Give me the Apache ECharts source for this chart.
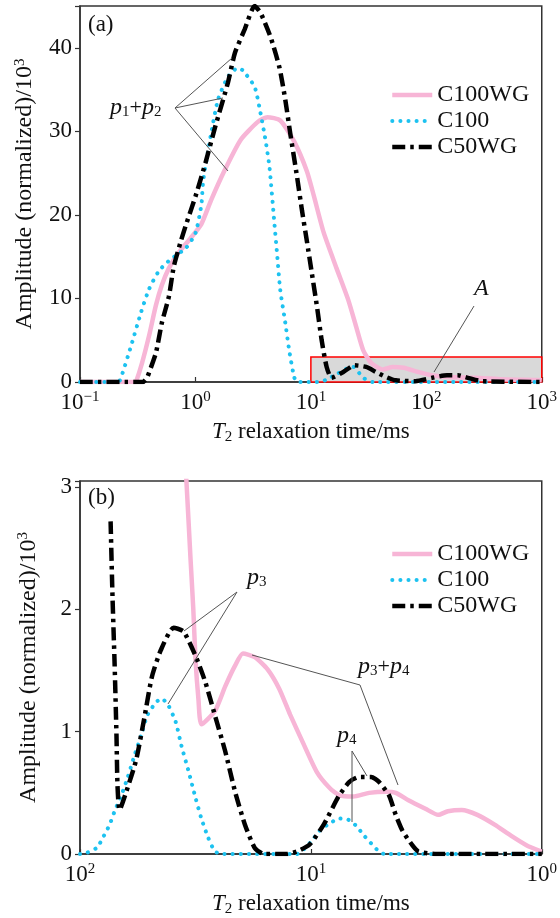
<!DOCTYPE html>
<html>
<head>
<meta charset="utf-8">
<script src="https://cdn.jsdelivr.net/npm/echarts@6/dist/echarts.min.js"></script>
<style>
html, body { margin: 0; padding: 0; background: #fff; }
#chart { width: 560px; height: 918px; }
</style>
</head>
<body>
<div id="chart"></div>
<script>
var seriesNames = ['C100WG', 'C100', 'C50WG'];

// panel (a): T2 in ms, amplitude /10^3
var xTickValuesA = [0.1, 1, 10, 100, 1000];
var xTickExpA = ['\u22121', '0', '1', '2', '3'];
var yTicksA = [0, 10, 20, 30, 40];

var c100wgA = [[0.1,0],[0.3,0],[0.307,0.1],[0.345,2.3],[0.396,5.5],[0.455,9.2],[0.512,11.6],[0.588,13.6],
  [0.716,15.5],[0.906,17.2],[1.125,18.9],[1.37,21.8],[1.8,25.4],[2.47,29],[3.45,31.1],[4.21,31.7],
  [5.43,31.3],[7.16,28.8],[9.25,25.2],[10.6,22.3],[12.9,17.9],[16.7,13.6],[21.1,9.8],[24.7,6.6],
  [28.4,3.8],[33.2,2.3],[42.1,1.5],[51.2,1.8],[63.6,1.7],[85.5,1.2],[112,0.8],[154,0.6],[262,0.5],
  [502,0.3],[906,0.25],[1000,0.2]];
var c100A = [[0.1,0],[0.2,0],[0.22,0.1],[0.278,4.4],[0.339,8.4],[0.396,11.1],[0.483,13.3],[0.611,14.7],
  [0.822,16.0],[1.0,17.8],[1.125,21.2],[1.17,24.2],[1.37,29.8],[1.57,33.8],[1.91,36.5],[2.33,37.6],
  [2.57,37.3],[3.26,35.3],[3.66,32.2],[4.04,29],[4.38,25.7],[4.83,19],[5.12,15],[5.43,11],[6.0,7.1],
  [6.49,3.8],[7.16,0.6],[7.6,0],[12,0],[13.7,0.3],[17,1.0],[21.1,1.7],[23.3,1.8],[28.4,0.5],[34.5,0],
  [100,0],[1000,0]];
var c50wgA = [[0.1,0],[0.35,0],[0.38,0.5],[0.396,1.1],[0.455,3.5],[0.512,7.1],[0.588,10.2],[0.649,13.8],
  [0.745,16.8],[0.837,19],[1.0,22.2],[1.22,26.2],[1.48,30.5],[1.91,35.8],[2.2,39.4],[2.67,42.2],
  [3.26,45],[3.66,44.2],[4.47,41.3],[5.33,37.7],[6.0,33.8],[6.62,29.8],[7.6,24.5],[8.38,20.5],
  [9.25,16.8],[10.2,13],[11.3,9.0],[12.4,5],[13.7,1.8],[15.1,0.5],[19.1,1.2],[23.8,2],[30.1,1.8],
  [36.6,1.2],[44.7,0.6],[54.3,0.2],[80.5,0.1],[112,0.5],[151,0.8],[188,0.8],[229,0.5],[301,0.1],[1000,0]];
var regionA = [[10, 0], [1000, 3]];

// panel (b): enlarged region A
var xTickValuesB = [100, 10, 1];
var xTickExpB = ['2', '1', '0'];
var yTicksB = [0, 1, 2, 3];

var c100wgB = [[36.5,3.8],[34.6,3.05],[33.2,2.41],[32.3,2.0],[31.6,1.59],[30.7,1.27],[29.8,1.06],[26.0,1.17],
  [23.5,1.37],[21.3,1.54],[19.7,1.64],[17.5,1.61],[15.4,1.51],[13.7,1.35],[12.3,1.14],[10.7,0.89],
  [9.42,0.67],[8.29,0.54],[7.52,0.48],[6.55,0.47],[5.6,0.50],[4.73,0.51],[4.29,0.50],[3.78,0.44],
  [3.19,0.37],[2.81,0.32],[2.55,0.35],[2.22,0.36],[1.9,0.32],[1.6,0.24],[1.36,0.15],[1.16,0.07],[1.0,0.02]];
var c100B = [[100,0],[98.1,0],[84.6,0.05],[79.8,0.13],[74.4,0.24],[70.8,0.35],[66.2,0.48],[62.3,0.62],
  [58.2,0.8],[54.3,0.97],[51.2,1.13],[46.9,1.24],[44.2,1.27],[41.3,1.21],[38.5,1.08],[36.3,0.88],
  [33.9,0.68],[31.6,0.46],[29.8,0.29],[27.8,0.13],[26.0,0.02],[24,0],[11.5,0],[10.1,0.09],[9.16,0.19],
  [8.29,0.25],[7.52,0.29],[6.88,0.28],[6.36,0.23],[5.88,0.15],[5.38,0.07],[5.07,0.02],[4.8,0],[1,0]];
var c50wgB = [[73.7,2.72],[72.3,2.1],[70.8,1.55],[69.5,0.97],[68.8,0.56],[67.4,0.36],[63.0,0.51],[57.1,0.77],
  [52.8,1.1],[48.8,1.45],[44.6,1.67],[39.3,1.85],[35.6,1.82],[31.6,1.62],[28.7,1.41],[26.0,1.13],
  [23.5,0.84],[21.3,0.51],[19.3,0.24],[17.5,0.05],[15.9,0],[12.7,0],[11.5,0.02],[10.1,0.08],[8.8,0.24],
  [7.59,0.47],[6.81,0.59],[6.18,0.63],[5.48,0.63],[5.07,0.59],[4.59,0.48],[4.29,0.32],[4.01,0.19],
  [3.63,0.07],[3.42,0.02],[2.9,0],[1,0]];

var FONT = "'Liberation Serif', 'Times New Roman', serif";
var AXIS = '#333';
var TXT = '#111';

var lineStyles = {
  'C100WG': {color: '#f7b5d6', width: 4.5, type: 'solid'},
  'C100': {color: '#1dc2f0', width: 4, type: [0.1, 8], cap: 'round'},
  'C50WG': {color: '#000', width: 4.5, type: [13, 5, 3.5, 5]}
};

function logLabel(values, exps) {
  return function (v) {
    for (var i = 0; i < values.length; i++) {
      if (Math.abs(Math.log10(v) - Math.log10(values[i])) < 1e-6) return '10{sup|' + exps[i] + '}';
    }
    return '';
  };
}
function valLabel(ticks) {
  return function (v) { return ticks.indexOf(v) >= 0 ? String(v) : ''; };
}

var supRich = {sup: {fontFamily: FONT, fontSize: 15, lineHeight: 14, verticalAlign: 'top', color: TXT}};
var nameRich = {
  it: {fontFamily: FONT, fontSize: 23, fontStyle: 'italic', color: TXT},
  sub: {fontFamily: FONT, fontSize: 15, lineHeight: 14, verticalAlign: 'bottom', color: TXT}
};

function xAxis(idx, ticks, exps, min, max, inverse) {
  return {
    type: 'log', logBase: 10, gridIndex: idx, min: min, max: max, inverse: inverse,
    axisLine: {show: true, lineStyle: {color: AXIS, width: 1.5}},
    axisTick: {show: true, inside: true, length: 5, lineStyle: {color: AXIS, width: 1.2}},
    minorTick: {show: false}, splitLine: {show: false},
    axisLabel: {formatter: logLabel(ticks, exps), fontFamily: FONT, fontSize: 23, color: TXT,
      margin: 8, lineHeight: 26, rich: supRich},
    name: '{it|T}{sub|2} relaxation time/ms', nameLocation: 'middle', nameGap: 37,
    nameTextStyle: {fontFamily: FONT, fontSize: 23, color: TXT, lineHeight: 26, rich: nameRich}
  };
}
function yAxis(idx, ticks, max, interval) {
  return {
    type: 'value', gridIndex: idx, min: 0, max: max, interval: interval,
    axisLine: {show: true, lineStyle: {color: AXIS, width: 1.5}},
    axisTick: {show: true, inside: false, length: 5, lineStyle: {color: AXIS, width: 1.2}},
    splitLine: {show: false},
    axisLabel: {formatter: valLabel(ticks), fontFamily: FONT, fontSize: 23, color: TXT, margin: 8},
    name: 'Amplitude (normalized)/10{sup|3}', nameLocation: 'middle', nameGap: 38, nameRotate: 90,
    nameTextStyle: {fontFamily: FONT, fontSize: 24, color: TXT, lineHeight: 26, rich: {
      sup: {fontFamily: FONT, fontSize: 15, lineHeight: 14, verticalAlign: 'top', color: TXT}}}
  };
}

function line(name, data, idx) {
  return {
    name: name, type: 'line', xAxisIndex: idx, yAxisIndex: idx, data: data,
    symbol: 'none', smooth: 0.2, lineStyle: lineStyles[name], itemStyle: {color: lineStyles[name].color},
    z: 3, clip: true
  };
}

function legend(top) {
  return {
    data: seriesNames, orient: 'vertical', left: 385, top: top,
    itemWidth: 40, itemHeight: 10, itemGap: 2,
    itemStyle: {opacity: 0},
    lineStyle: {width: 'inherit'},
    textStyle: {fontFamily: FONT, fontSize: 24, color: TXT, lineHeight: 22}
  };
}

function label(x, y, text, rich) {
  return {type: 'text', z: 10, style: {x: x, y: y, text: text, fontFamily: FONT, fontSize: 23,
    fill: TXT, verticalAlign: 'middle', align: 'left', rich: rich || {}}};
}
function leader(points) {
  return {type: 'polyline', z: 10, shape: {points: points}, style: {stroke: '#555', lineWidth: 1, fill: null}};
}
var pRich = {
  i: {fontFamily: FONT, fontSize: 24, fontStyle: 'italic', color: TXT},
  s: {fontFamily: FONT, fontSize: 15, lineHeight: 14, verticalAlign: 'bottom', color: TXT},
  t: {fontFamily: FONT, fontSize: 22, color: TXT}
};

var option = {
  backgroundColor: '#fff',
  animation: false,
  grid: [
    {left: 80, right: 12, top: 6, height: 376, show: true, borderColor: AXIS, borderWidth: 1.5},
    {left: 80, right: 12, top: 481, height: 375, show: true, borderColor: AXIS, borderWidth: 1.5}
  ],
  xAxis: [xAxis(0, xTickValuesA, xTickExpA, 0.1, 1000, false), xAxis(1, xTickValuesB, xTickExpB, 1, 100, true)],
  yAxis: [yAxis(0, yTicksA, 45, 10), yAxis(1, yTicksB, 3.05, 1)],
  legend: [legend(78), legend(537)],
  series: [
    {name: 'regionA', type: 'line', xAxisIndex: 0, yAxisIndex: 0, data: [], z: 1, silent: true,
      markArea: {silent: true, itemStyle: {color: '#d9d9d9', borderColor: '#ff0000', borderWidth: 1.5},
        data: [[{coord: regionA[0]}, {coord: regionA[1]}]]}},
    line('C100WG', c100wgA, 0), line('C100', c100A, 0), line('C50WG', c50wgA, 0),
    line('C100WG', c100wgB, 1), line('C100', c100B, 1), line('C50WG', c50wgB, 1)
  ],
  graphic: [
    label(88, 25, '(a)'),
    label(110, 108, '{i|p}{s|1}{t|+}{i|p}{s|2}', pRich),
    leader([[175, 108], [232, 58]]), leader([[175, 108], [223, 98]]), leader([[175, 108], [228, 171]]),
    label(474, 289, '{i|A}', pRich),
    leader([[474, 306], [434, 372]]),
    label(88, 498, '(b)'),
    label(247, 578, '{i|p}{s|3}', pRich),
    leader([[237, 592], [184, 631]]), leader([[237, 592], [168, 704]]),
    label(358, 667, '{i|p}{s|3}{t|+}{i|p}{s|4}', pRich),
    leader([[252, 655], [360, 685], [398, 785]]),
    label(337, 736, '{i|p}{s|4}', pRich),
    leader([[352, 751], [367, 776]]), leader([[352, 751], [352, 822]])
  ]
};

var chart = echarts.init(document.getElementById('chart'), null, {renderer: 'canvas'});
chart.setOption(option);
</script>
</body>
</html>
